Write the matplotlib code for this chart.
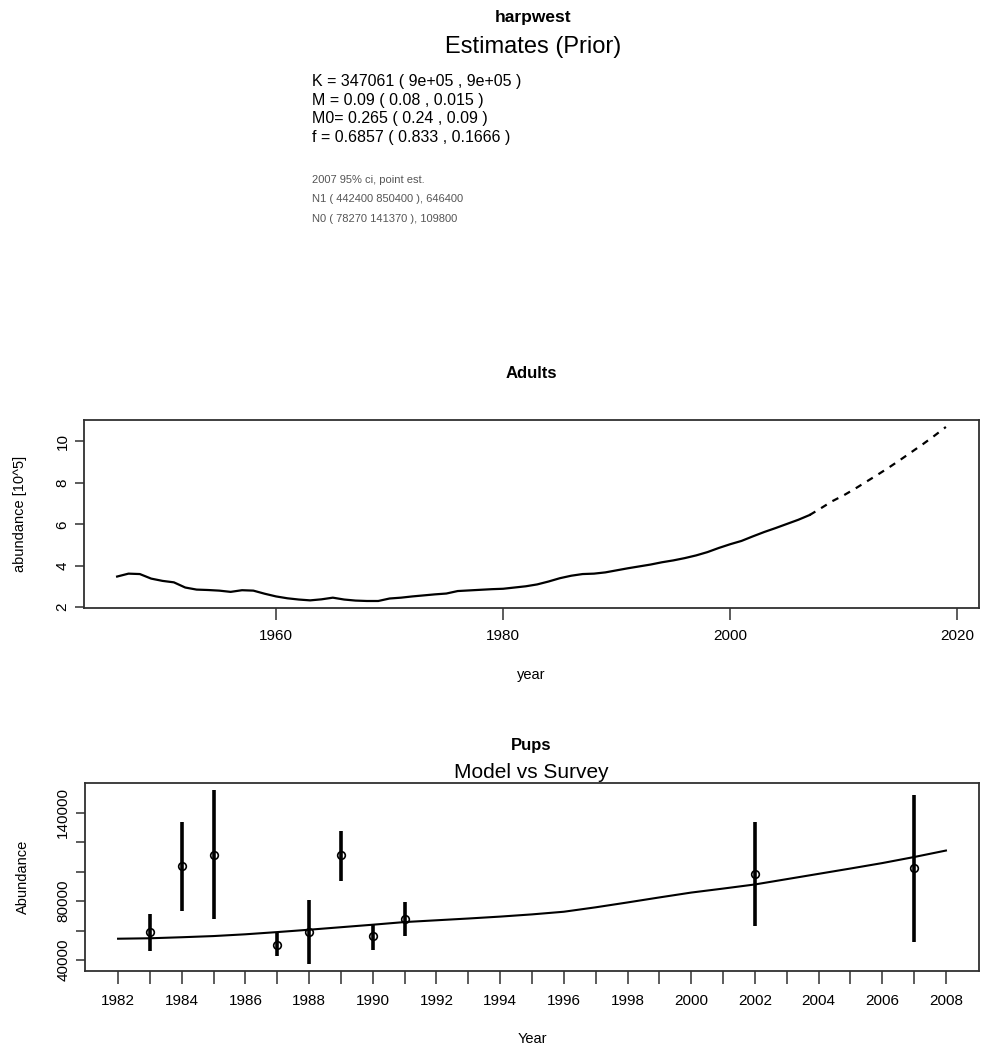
import matplotlib
matplotlib.use('Agg')
import matplotlib.pyplot as plt
import numpy as np

plt.rcParams['font.family'] = ['Liberation Sans', 'DejaVu Sans']

# ---- data ----
param_lines = ['K = 347061 ( 9e+05 , 9e+05 )',
               'M = 0.09 ( 0.08 , 0.015 )',
               'M0= 0.265 ( 0.24 , 0.09 )',
               'f = 0.6857 ( 0.833 , 0.1666 )']
ci_lines = ['2007 95% ci, point est.',
            'N1 ( 442400 850400 ), 646400',
            'N0 ( 78270 141370 ), 109800']

adult_years = list(range(1946, 2008))
adult_abund = [3.48, 3.62, 3.60, 3.38, 3.27, 3.20, 2.95, 2.85, 2.83, 2.80,
               2.74, 2.82, 2.80, 2.65, 2.52, 2.43, 2.37, 2.33, 2.38, 2.46,
               2.37, 2.32, 2.30, 2.30, 2.42, 2.46, 2.52, 2.57, 2.62, 2.66,
               2.78, 2.81, 2.84, 2.87, 2.89, 2.95, 3.01, 3.10, 3.24, 3.40,
               3.52, 3.60, 3.62, 3.68, 3.78, 3.88, 3.97, 4.06, 4.17, 4.26,
               4.37, 4.50, 4.66, 4.86, 5.04, 5.20, 5.42, 5.63, 5.82, 6.02,
               6.22, 6.45]
proj_years = list(range(2007, 2020))
proj_abund = [6.45, 6.78, 7.12, 7.40, 7.72, 8.06, 8.40, 8.75, 9.12, 9.50,
              9.88, 10.28, 10.70]

pup_model_years = list(range(1982, 2009))
pup_model = [54500, 54800, 55500, 56300, 57500, 59000, 60600, 62300, 64000,
             65800, 67000, 68200, 69500, 71000, 72800, 75800, 79100, 82500,
             85800, 88500, 91300, 94900, 98500, 102100, 105800, 109900, 114300]

survey_years = [1983, 1984, 1985, 1987, 1988, 1989, 1990, 1991, 2002, 2007]
survey_est = [59000, 103600, 111400, 50500, 59000, 111000, 56500, 67900, 98700, 102500]
survey_lo = [46300, 73000, 67900, 42700, 37300, 93500, 47000, 56100, 63400, 52300]
survey_hi = [71300, 133700, 155400, 58300, 80800, 127700, 64100, 79100, 133700, 152300]

pup_yticks = [40000, 60000, 80000, 100000, 120000, 140000]
pup_ylabels = ['40000', '', '80000', '', '', '140000']


def r_range(lo, hi):
    # R style axis range: data range widened by 4% on each side
    d = (hi - lo) * 0.04
    return lo - d, hi + d


def style_axes(ax):
    for s in ax.spines.values():
        s.set_linewidth(1.3)
        s.set_color('#303030')
    ax.tick_params(direction='out', width=1.1, color='#303030', labelsize=11)
    ax.tick_params(axis='y', length=6.5, pad=4)
    ax.tick_params(axis='x', length=8.5, pad=7)


fig = plt.figure(figsize=(9.81, 10.5), dpi=100)

# ---- header text ----
fig.text(0.543, 0.983, 'harpwest', ha='center', va='center',
         fontsize=12.5, fontweight='bold')
fig.text(0.543, 0.955, 'Estimates (Prior)', ha='center', va='center',
         fontsize=17)
for i, line in enumerate(param_lines):
    fig.text(0.318, 0.922 - i * 0.0176, line, ha='left', va='center',
             fontsize=11.5)
for i, line in enumerate(ci_lines):
    fig.text(0.318, 0.829 - i * 0.0188, line, ha='left', va='center',
             fontsize=8, color='#555555')

# ---- Adults ----
ax1 = fig.add_axes([0.0856, 0.421, 0.9124, 0.179])
ax1.plot(adult_years, adult_abund, color='black', lw=1.6)
ax1.plot(proj_years, proj_abund, color='black', lw=1.6,
         linestyle=(0, (3, 3)))
ax1.set_xlim(*r_range(min(adult_years), max(proj_years)))
ax1.set_ylim(*r_range(min(adult_abund), max(proj_abund)))
ax1.set_xticks([1960, 1980, 2000, 2020])
ax1.set_yticks([2, 4, 6, 8, 10])
for lab in ax1.get_yticklabels():
    lab.set_rotation(90)
    lab.set_va('center')
style_axes(ax1)
ax1.set_title('Adults', fontsize=12, fontweight='bold', pad=30)
ax1.set_xlabel('year', fontsize=10.5)
ax1.xaxis.set_label_coords(0.5, -0.32)
ax1.set_ylabel('abundance [10^5]', fontsize=10.5)
ax1.yaxis.set_label_coords(-0.064, 0.5)

# ---- Pups ----
ax2 = fig.add_axes([0.0866, 0.0752, 0.9114, 0.1791])
ax2.plot(pup_model_years, pup_model, color='black', lw=1.5)
ax2.vlines(survey_years, survey_lo, survey_hi, color='black', lw=2.6)
ax2.plot(survey_years, survey_est, 'o', mfc='none', mec='black',
         ms=5.5, mew=1.2)
ax2.set_xlim(*r_range(min(pup_model_years), max(pup_model_years)))
ax2.set_ylim(*r_range(min(survey_lo), max(survey_hi)))
ax2.set_xticks(pup_model_years)
ax2.set_xticklabels([str(y) if y % 2 == 0 else '' for y in pup_model_years])
ax2.set_yticks(pup_yticks)
ax2.set_yticklabels(pup_ylabels, rotation=90, va='center')
style_axes(ax2)
ax2.tick_params(axis='x', length=9.5, pad=7)
fig.text(0.5415, 0.29, 'Pups', ha='center', va='center',
         fontsize=12, fontweight='bold')
fig.text(0.5415, 0.264, 'Model vs Survey', ha='center', va='center',
         fontsize=15)
ax2.set_xlabel('Year', fontsize=10.5)
ax2.xaxis.set_label_coords(0.5, -0.325)
ax2.set_ylabel('Abundance', fontsize=10.5)
ax2.yaxis.set_label_coords(-0.062, 0.5)

fig.savefig('out.png', dpi=100)
